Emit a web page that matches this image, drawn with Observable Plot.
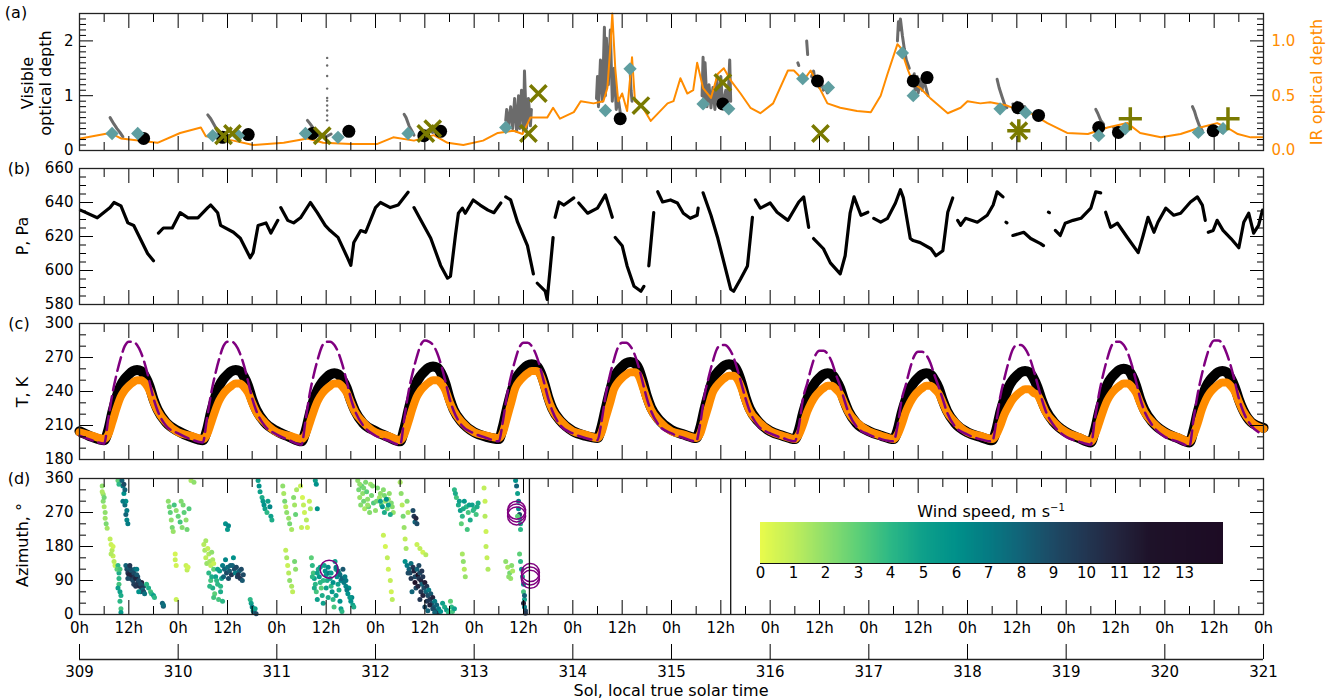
<!DOCTYPE html>
<html><head><meta charset="utf-8">
<script src="https://cdn.jsdelivr.net/npm/d3@7"></script>
<script src="https://cdn.jsdelivr.net/npm/@observablehq/plot@0.6"></script>
<style>
body{margin:0;background:#fff;font-family:"DejaVu Sans",sans-serif;}
#root{position:relative;width:1330px;height:700px;overflow:hidden;background:#fff;}
.t{position:absolute;white-space:nowrap;font-size:16px;color:#000;line-height:1;}
</style></head><body><div id="root"></div>
<script>
// ---------- DATA ----------
// Panel (a): IR optical depth (sol, tau_IR)
const irObs = [[309.01,.11],[309.31,.16],[309.42,.11],[309.62,.09],[309.79,.07],[310.02,.16],[310.23,.21],[310.28,.13],[310.56,.09],[310.76,.05],[311.07,.07],[311.31,.11],[311.47,.07],[311.75,.06],[312.02,.06],[312.18,.12],[312.39,.09],[312.59,.14],[312.73,.07],[312.89,.05],[313.09,.09],[313.24,.16],[313.40,.18],[313.49,.15],[313.57,.30],[313.74,.30],[313.80,.39],[313.87,.29],[314.01,.35],[314.08,.45],[314.21,.43],[314.31,.45],[314.35,.57],[314.38,.94],[314.40,1.25],[314.43,.75],[314.46,.45],[314.50,.52],[314.55,.36],[314.60,.85],[314.63,.45],[314.71,.39],[314.79,.27],[314.96,.43],[315.02,.45],[315.09,.66],[315.16,.52],[315.22,.55],[315.26,.80],[315.32,.57],[315.40,.48],[315.47,.70],[315.53,.75],[315.60,.64],[315.70,.52],[315.80,.39],[315.90,.34],[316.03,.43],[316.18,.73],[316.24,.73],[316.34,.64],[316.41,.73],[316.58,.43],[316.71,.39],[316.88,.36],[317.02,.35],[317.12,.50],[317.19,.70],[317.29,.97],[317.32,.94],[317.39,.75],[317.45,.61],[317.52,.57],[317.62,.48],[317.80,.34],[317.93,.39],[318.00,.45],[318.13,.43],[318.23,.44],[318.40,.41],[318.54,.36],[318.64,.34],[318.81,.25],[319.01,.16],[319.22,.15],[319.42,.21],[319.62,.25],[319.75,.16],[319.96,.12],[320.16,.15],[320.36,.21],[320.53,.25],[320.63,.21],[320.74,.15],[320.87,.12],[320.99,.12]];
// Visible optical depth streaks (segment, sol, tau)
const visObs = [
[1,309.31,.60],[1,309.35,.48],[1,309.38,.40],[1,309.41,.33],[1,309.44,.25],
[2,310.30,.65],[2,310.33,.58],[2,310.37,.45],[2,310.40,.35],[2,310.43,.30],
[3,310.46,.30],[3,310.50,.26],[3,310.55,.30],[3,310.58,.25],
[4,311.31,.55],[4,311.34,.48],[4,311.38,.38],[4,311.41,.30],[4,311.44,.25],
[5,311.47,.30],[5,311.50,.25],[5,311.55,.30],
[6,312.29,.66],[6,312.31,.60],[6,312.34,.45],[6,312.37,.35],[6,312.39,.28],
[7,312.50,.32],[7,312.54,.38],[7,312.58,.33],
[8,313.32,.55],[8,313.33,.75],[8,313.35,.45],[8,313.37,.80],[8,313.39,.40],[8,313.41,.95],[8,313.43,.35],[8,313.45,1.0],[8,313.46,.40],[8,313.48,1.1],[8,313.50,.35],[8,313.51,1.45],[8,313.53,.40],[8,313.55,.95],[8,313.57,.45],[8,313.58,.75],
[9,314.24,.95],[9,314.25,1.35],[9,314.26,.80],[9,314.28,1.65],[9,314.30,.90],[9,314.32,2.25],[9,314.33,1.0],[9,314.34,2.05],[9,314.36,1.2],[9,314.38,2.2],[9,314.40,.9],[9,314.42,1.5],[9,314.44,.75],[9,314.46,.95],[9,314.48,.7],
[10,314.58,1.5],[10,314.59,1.1],[10,314.60,.9],
[11,315.31,1.0],[11,315.32,1.7],[11,315.33,.85],[11,315.34,1.6],[11,315.36,.8],[11,315.38,1.2],[11,315.40,.78],[11,315.42,1.15],[11,315.44,.75],[11,315.46,1.3],[11,315.48,.80],[11,315.50,1.35],[11,315.52,.78],[11,315.55,1.1],[11,315.57,.8],[11,315.59,1.65],[11,315.60,.9],
[12,316.28,1.6],[12,316.29,1.55],
[13,316.37,2.0],[13,316.38,1.75],
[14,316.42,1.35],[14,316.44,1.45],[14,316.46,1.2],[14,316.48,1.35],[14,316.50,1.15],[14,316.52,1.25],[14,316.54,1.1],[14,316.56,1.15],[14,316.58,1.05],
[15,317.29,2.0],[15,317.30,2.35],[15,317.31,2.2],[15,317.32,2.4],[15,317.34,2.1],[15,317.36,1.85],[15,317.38,1.65],[15,317.41,1.5],
[16,317.46,1.4],[16,317.47,1.1],[16,317.49,1.35],[16,317.50,1.05],[16,317.52,1.3],[16,317.54,1.1],[16,317.56,1.4],[16,317.57,1.2],[16,317.60,1.0],
[17,318.30,1.3],[17,318.32,1.15],[17,318.35,.98],[17,318.38,.82],[17,318.40,.78],
[18,318.46,.85],[18,318.48,.72],[18,318.50,.88],[18,318.52,.72],[18,318.54,.84],[18,318.56,.70],[18,318.58,.80],[18,318.60,.68],
[19,319.30,.75],[19,319.32,.68],[19,319.35,.55],[19,319.38,.48],
[20,319.48,.42],[20,319.50,.36],[20,319.52,.42],[20,319.55,.34],[20,319.58,.38],
[21,320.28,.80],[21,320.30,.72],[21,320.32,.60],[21,320.35,.45],[21,320.38,.36],
[22,320.50,.42],[22,320.52,.36],[22,320.55,.40],[22,320.58,.33]];
const visSparse = [[311.51,1.69],[311.51,1.55],[311.51,1.36],[311.51,1.13],[311.51,.96],[311.51,.91],[311.51,.82],[311.51,.73],[311.51,.64],[311.51,.55]];
const tauCircle = [[309.65,.22],[310.45,.24],[310.71,.29],[311.36,.31],[311.73,.35],[312.49,.27],[312.66,.35],[314.48,.58],[315.52,.85],[316.48,1.27],[317.45,1.27],[317.59,1.33],[318.51,.78],[318.72,.64],[319.33,.42],[319.53,.33],[320.49,.36]];
const tauDiamond = [[309.33,.31],[309.59,.31],[310.35,.27],[310.61,.27],[311.29,.31],[311.62,.24],[312.33,.31],[313.32,.42],[314.33,.73],[314.58,1.49],[315.32,.85],[315.58,.76],[316.33,1.31],[316.59,1.15],[317.34,1.78],[317.45,1.00],[318.33,.76],[318.59,.69],[319.33,.27],[319.60,.40],[320.34,.33],[320.59,.40]];
const tauCross = [[310.46,.27],[310.55,.31],[311.46,.27],[312.51,.31],[312.58,.40],[313.55,.31],[313.65,1.04],[314.69,.82],[315.52,1.24],[316.51,.31],[318.52,.36]];
const tauPlus = [[318.52,.36],[319.65,.58],[320.64,.58]];

// Panel (b): pressure (segment, sol, Pa)
const pressObs = [
[1,309.01,635.5],[1,309.18,631],[1,309.31,637],[1,309.35,640],[1,309.42,638],[1,309.49,628],[1,309.55,626.5],[1,309.60,620.6],[1,309.69,610],[1,309.75,605.7],
[2,309.80,622],[2,309.85,625],[2,309.94,625],[2,310.02,634],[2,310.10,631],[2,310.20,631],[2,310.30,637],[2,310.33,638.5],[2,310.40,634],[2,310.43,626.5],[2,310.56,622.5],[2,310.63,619],[2,310.73,607.5],[2,310.76,610.5],[2,310.81,626.5],[2,310.89,628],[2,310.94,622],[2,311.01,629.5],
[3,311.04,637],[3,311.11,629.5],[3,311.17,628],[3,311.24,631],[3,311.34,640],[3,311.41,634],[3,311.49,626.5],[3,311.54,623.5],[3,311.62,619.5],[3,311.72,607],[3,311.75,603],[3,311.78,616.5],[3,311.85,623.5],[3,311.90,622.5],[3,312.00,637],[3,312.05,640],[3,312.15,637],[3,312.23,638.5],[3,312.33,646],
[4,312.39,637],[4,312.46,629.5],[4,312.56,619],[4,312.66,603],[4,312.73,595.5],[4,312.76,596.7],[4,312.81,620.6],[4,312.84,633.7],[4,312.88,636.7],[4,312.91,633.7],[4,312.99,641.5],[4,313.06,638.5],[4,313.14,635.5],[4,313.20,634],[4,313.27,639.7],
[5,313.32,643.3],[5,313.37,641.5],[5,313.44,628.4],[5,313.54,614.6],[5,313.60,598],
[6,313.64,592.5],[6,313.72,587.8],[6,313.74,583],[6,313.77,601],[6,313.80,619.4],
[7,313.82,631.3],[7,313.86,640.3],[7,313.91,638.5],[7,314.01,642.7],
[8,314.06,639.7],[8,314.15,633.7],[8,314.25,636.7],[8,314.33,644.5],[8,314.40,631.3],
[9,314.43,619.4],[9,314.50,614.6],[9,314.55,602.7],[9,314.62,590.7],[9,314.69,587.8],[9,314.72,590.7],
[10,314.77,602.7],[10,314.82,634],
[11,314.86,646.3],[11,314.91,640.3],[11,314.99,641.5],[11,315.06,639.7],[11,315.12,633.7],[11,315.19,630.7],[11,315.26,632.5],[11,315.27,636.7],
[12,315.32,645.7],[12,315.40,632.5],[12,315.47,618.8],[12,315.60,589],[12,315.63,587.8],[12,315.70,595],[12,315.77,602.7],[12,315.82,631.3],
[13,315.85,641.5],[13,315.90,636.7],[13,316.00,639.7],[13,316.07,634.3],[13,316.18,629.5],[13,316.29,640.3],[13,316.34,643.3],[13,316.39,625.4],
[14,316.44,618.8],[14,316.54,612.8],[14,316.61,604.5],[14,316.71,598],[14,316.76,608.7],[14,316.81,633.7],[14,316.85,643.3],[14,316.92,632.5],[14,316.99,634.3],
[15,317.05,630.7],[15,317.12,628.4],[15,317.19,630.7],[15,317.27,639.7],[15,317.32,647.5],[15,317.35,642.7],[15,317.42,618.8],[15,317.45,617.6],[15,317.52,616.4],[15,317.63,612.8],[15,317.68,608.7],[15,317.75,611.6],[15,317.80,634.3],[15,317.85,642.7],
[16,317.90,629.5],[16,317.93,626.6],[16,317.98,630.7],[16,318.10,628.4],[16,318.20,632.5],[16,318.26,638.5],[16,318.30,646.3],[16,318.36,643.3],
[17,318.39,628.4],[17,318.40,628.0],
[18,318.46,620.6],[18,318.57,622.5],[18,318.64,618.8],[18,318.74,615.8],[18,318.77,614.6],
[19,318.82,634.3],[19,318.83,634.0],
[20,318.89,623.6],[20,318.94,620.6],[20,318.99,627.8],[20,319.07,629.5],[20,319.15,630.7],[20,319.25,636.7],[20,319.30,646.3],[20,319.35,645.7],
[21,319.40,634.3],[21,319.45,625.4],[21,319.52,627.8],[21,319.62,619.4],[21,319.73,610.5],[21,319.78,620.6],[21,319.83,631.3],[21,319.89,622.5],[21,319.93,628.4],[21,320.01,636.7],[21,320.09,632.5],[21,320.16,633.7],[21,320.26,640.3],[21,320.33,643.3],[21,320.38,638.5],[21,320.41,629.5],
[22,320.44,622.5],[22,320.49,623.6],[22,320.53,629.5],[22,320.59,623.6],[22,320.67,618.8],[22,320.75,613.4],[22,320.80,628.4],[22,320.85,633.7],[22,320.90,622],[22,320.95,626.6],[22,320.99,635.5]];

// Panel (c): temperatures, one row per sol at local hours tHours
const tSols = [309,310,311,312,313,314,315,316,317,318,319,320];
const tHours = [0,3,6,7,8,9,10,11,12,13,14,15,16,17,18,19,21];
const surfT = [
[201,197,194,216,238,255,269,280,284,284,281,274,263,249,234,223,210],
[203,198,195,216,238,255,269,280,284,284,281,274,263,249,234,223,210],
[202,197,193,215,238,255,269,280,284,284,281,274,263,249,234,223,210],
[201,197,193,216,239,256,270,281,285,284,281,274,263,249,234,223,210],
[203,199,196,214,237,254,268,279,283,283,280,273,262,248,234,223,210],
[203,199,197,214,237,254,268,279,283,283,280,273,262,248,234,223,210],
[203,199,196,212,236,252,266,277,281,281,278,271,260,247,234,223,210],
[203,199,196,210,234,247,261,272,276,276,273,266,255,245,233,222,209],
[202,198,196,210,233,246,260,271,275,275,272,265,254,244,233,222,209],
[202,198,196,213,236,252,266,277,281,281,278,271,260,247,234,223,210],
[200,196,193,216,238,255,269,280,284,284,281,274,263,249,234,223,210],
[200,196,192,216,238,255,269,280,285,285,282,274,263,249,234,223,210]];
const airT = [
[205,200,197,206,222,235,245,251,255,258,259,258,253,245,233,224,213],
[205,200,197,206,222,235,245,251,255,258,259,258,253,245,233,224,213],
[205,200,196,205,220,233,242,248,252,255,256,255,250,243,232,223,212],
[205,200,196,207,223,237,248,254,258,261,262,261,256,247,234,224,213],
[204,200,198,209,225,239,250,256,260,263,264,263,258,248,235,225,214],
[205,201,199,209,225,240,252,258,262,265,266,265,260,249,236,226,215],
[206,202,199,208,224,238,250,256,260,263,264,263,258,248,235,225,214],
[205,201,198,206,221,233,242,248,252,255,256,255,250,243,232,223,212],
[205,201,198,206,221,233,242,248,252,255,256,255,250,243,232,223,212],
[204,200,197,206,222,234,244,250,254,257,258,257,252,244,233,224,213],
[204,199,195,206,222,235,246,252,256,259,260,259,254,245,233,224,213],
[204,199,195,206,222,234,244,250,254,257,258,257,252,244,233,224,213]];
const gndT = [
[204,201,198,202,213,225,235,241,245,248,250,250,247,241,231,223,213],
[204,201,198,202,212,223,232,238,242,245,247,247,244,239,230,222,213],
[204,201,198,202,212,223,232,238,242,245,247,247,244,239,230,222,213],
[204,201,197,202,213,225,235,241,245,248,250,250,247,241,231,223,213],
[204,201,199,204,217,230,243,249,253,256,258,258,255,245,233,224,214],
[205,202,199,204,217,229,242,248,252,255,257,257,254,244,233,224,214],
[205,202,199,203,215,227,239,245,249,252,254,254,251,243,232,223,214],
[205,201,198,202,211,222,230,236,240,243,245,245,242,238,230,222,213],
[205,201,198,202,211,222,230,236,240,243,245,245,242,238,230,222,213],
[204,201,198,202,210,220,227,233,237,240,242,242,239,237,230,222,213],
[204,200,196,202,212,223,232,238,242,245,247,247,244,239,230,222,213],
[204,200,196,202,212,224,233,239,243,246,248,248,245,240,231,223,213]];
const endT = {surf: 202, air: 208, gnd: 207};

// Panel (d): wind (sol, azimuth deg, speed m/s)
const windObs = [
[309.23,340,2],[309.24,318,1.8],[309.24,300,2.2],[309.25,285,1.5],[309.26,270,2],[309.26,255,1.7],[309.27,240,2.4],[309.28,228,1.6],[309.23,325,1.4],[309.25,310,2.6],
[309.31,200,1],[309.32,185,0.8],[309.33,170,1.2],[309.34,155,0.9],[309.35,140,1.1],[309.36,130,0.7],[309.32,160,1.3],[309.34,180,0.6],
[309.39,130,4],[309.40,110,4.5],[309.40,80,3.5],[309.41,60,5],[309.41,35,4],[309.42,15,3.5],[309.42,5,5.5],[309.39,355,3],[309.40,345,4],[309.38,120,3],
[309.40,95,4],[309.41,120,3.5],[309.42,50,4.5],[309.39,70,5],
[309.43,355,8],[309.44,340,7],[309.45,320,6],[309.46,290,7.5],[309.47,265,8],[309.48,250,6.5],[309.49,240,7],[309.45,345,9],[309.47,300,6],
[309.44,300,7],[309.46,330,8],[309.48,275,7],
[309.47,130,8],[309.48,120,9],[309.49,110,10],[309.50,125,8.5],[309.51,100,9.5],[309.52,95,10],[309.53,115,8],[309.54,90,9],[309.50,105,11],[309.52,120,9],
[309.49,95,9],[309.51,130,10],[309.53,105,11],[309.55,80,9.5],[309.56,120,8],[309.57,75,10],[309.59,100,9],[309.62,60,8.5],[309.63,85,11],[309.65,75,9],
[309.55,110,9],[309.56,100,10],[309.57,95,11],[309.58,105,8.5],[309.59,85,10],[309.60,90,9],[309.61,75,10.5],[309.62,80,9],[309.63,70,10],[309.64,65,8],[309.65,60,9],[309.66,55,7.5],[309.60,60,6],[309.58,120,7],
[309.68,80,4],[309.70,70,4.5],[309.72,60,3.5],[309.73,55,4],[309.75,50,5],[309.76,45,4],
[309.84,30,8],[309.85,22,8.5],[309.85,25,7.5],
[309.97,160,0.5],[309.97,145,0.8],[309.98,130,0.6],[309.98,40,0.8],
[309.90,300,2],[309.91,285,2.5],[309.92,270,3],[309.93,250,2],[309.94,230,2.5],[309.96,290,3.5],[309.98,275,2],[310.00,260,2.8],[310.02,245,3.5],[310.04,230,2.2],[310.05,290,2.5],[310.06,270,3],[310.08,250,2],[310.09,225,2.6],[310.11,280,3.2],[309.95,220,1.8],[310.03,300,2.3],
[310.08,130,0.8],[310.09,118,1],[310.10,125,0.6],
[310.13,355,1.5],[310.16,350,2],
[310.26,185,1.2],[310.27,170,1.5],[310.28,150,1],[310.29,135,1.8],[310.30,175,0.9],[310.31,160,1.3],[310.32,140,1.6],[310.33,130,1.1],[310.34,165,2],[310.35,145,1.4],[310.36,135,0.8],[310.28,195,1.5],
[310.31,110,4],[310.33,90,3.5],[310.35,70,4.5],[310.37,55,3],[310.38,100,5],[310.40,80,4],[310.41,40,3.5],[310.43,60,4.5],[310.44,95,5],[310.45,35,4],[310.36,120,3],[310.42,115,5.5],
[310.32,75,4],[310.34,100,4.5],[310.36,45,3.5],[310.39,90,4],[310.40,120,5],[310.43,75,4],
[310.45,130,7],[310.47,120,8],[310.49,110,9],[310.50,125,7.5],[310.52,115,8.5],[310.54,105,10],[310.55,130,8],[310.57,120,9],[310.58,110,7],[310.60,100,9.5],[310.62,115,8],[310.63,95,10],[310.65,90,8.5],[310.66,105,9],[310.48,145,6.5],[310.56,150,6],
[310.46,100,8],[310.51,95,9],[310.53,130,8],[310.59,125,9],[310.61,105,10],[310.64,120,9],
[310.48,240,6],[310.50,225,5.5],[310.51,235,6.5],
[310.73,40,4],[310.74,30,5],[310.75,20,7],[310.76,10,6],[310.77,5,8],[310.78,15,5],[310.79,2,9],
[310.81,355,5],[310.82,340,6],[310.83,325,5],[310.85,310,4.5],[310.86,300,5.5],[310.87,290,6],[310.88,280,5],[310.90,270,4],[310.91,300,5],[310.93,285,6.5],[310.94,260,5],[310.95,250,4.5],
[311.06,340,2],[311.07,320,1.5],[311.08,300,2.5],[311.09,285,1.2],[311.10,270,2],[311.12,255,1.8],[311.13,240,2.5],[311.15,225,1.5],[311.17,310,2.2],[311.18,290,1.6],[311.19,265,2.8],[311.20,330,1.4],
[311.09,170,1],[311.10,150,1.5],[311.11,130,0.8],[311.12,110,1.2],[311.13,90,2],[311.15,75,1.4],[311.16,60,1],[311.18,140,2.5],[311.19,120,2],
[311.24,340,0.8],[311.26,310,0.5],[311.27,290,1],[311.28,270,0.7],[311.30,250,1.2],[311.31,230,0.6],[311.33,300,0.9],[311.34,280,1.4],[311.25,230,0.9],
[311.35,150,3],[311.36,130,4],[311.37,110,3.5],[311.38,95,5],[311.39,80,4],[311.40,60,3.5],[311.41,40,5],[311.42,120,4.5],[311.43,100,5.5],[311.44,85,4],[311.45,70,3],[311.46,50,4.5],[311.47,30,5],[311.48,130,5],[311.49,115,6],[311.50,105,5.5],[311.51,90,4.5],[311.52,125,6.5],[311.53,110,7],[311.54,95,5],[311.55,75,4],[311.56,60,5.5],[311.57,40,4],[311.58,20,3.5],[311.59,140,5],[311.60,120,4.5],[311.61,100,6],[311.62,80,5],[311.63,65,4.5],[311.64,35,6],[311.65,15,5],[311.66,8,4],
[311.36,100,4],[311.38,70,4.5],[311.41,110,5],[311.44,125,5],[311.47,90,4],[311.50,70,5],[311.52,45,4.5],[311.55,110,5.5],[311.57,85,6],[311.60,50,5],[311.63,110,5],[311.65,90,6.5],[311.70,90,7],[311.73,70,6],[311.76,45,6.5],
[311.60,125,7],[311.62,115,8],[311.64,105,7.5],[311.66,95,8],[311.68,85,7],[311.70,75,6.5],[311.71,65,7],[311.72,55,6],[311.74,45,5.5],[311.75,35,6],[311.77,25,5],[311.78,20,4.5],[311.67,120,8.5],[311.69,100,7],
[311.39,355,5],[311.40,345,6],[311.41,280,6],
[311.82,355,2],[311.83,330,2.5],[311.84,310,1.8],[311.85,290,2.2],[311.86,340,3],[311.87,320,2],[311.88,300,2.6],[311.89,280,1.5],[311.90,350,2.4],[311.91,325,3],[311.92,305,2],[311.93,285,2.8],[311.94,270,2.2],[311.95,345,1.8],[311.96,315,2.5],[311.98,295,3.2],[312.00,275,2],[312.02,335,2.4],[312.04,310,1.6],[312.06,290,2.8],[312.08,330,2.2],[312.10,300,1.8],[312.12,280,2.6],[312.14,320,2],[312.16,295,2.4],[312.18,270,1.9],
[311.84,345,2],[311.88,335,2.5],[311.92,290,1.8],[311.97,340,2.2],[312.01,300,2.6],[312.05,320,2],[312.09,315,2.4],[312.13,305,1.8],[312.17,285,2.2],
[312.05,300,5],[312.07,285,5.5],[312.09,270,4.5],[312.11,305,6],[312.13,290,5],[312.15,265,4.5],
[312.08,210,0.8],[312.10,180,0.5],[312.12,150,1],[312.13,120,0.7],[312.15,90,0.9],[312.16,60,0.6],[312.17,40,1.1],
[312.25,350,1.5],[312.26,320,2],[312.27,290,1.2],[312.28,260,2.5],[312.29,230,1.8],[312.30,200,1],[312.31,175,1.5],[312.32,300,2.2],[312.33,270,1.4],
[312.38,275,9],[312.39,260,10],[312.40,245,8],[312.41,255,11],[312.42,240,9],
[312.30,140,6],[312.32,130,7],[312.34,120,8],[312.35,110,9],[312.36,135,7.5],[312.38,125,10],[312.39,115,11],[312.40,100,9],[312.42,120,8],[312.43,105,12],[312.44,95,10],[312.45,110,9],[312.46,90,11],[312.47,80,8],[312.48,100,10],[312.49,70,9],[312.50,85,11.5],[312.51,60,8],[312.52,75,10],[312.53,50,9],[312.54,65,7],[312.55,40,10],[312.56,55,8.5],[312.57,30,9],[312.58,45,11],[312.59,20,8],[312.60,35,7],[312.61,10,9],[312.62,25,8],[312.63,5,10],[312.64,15,7],[312.66,8,6],[312.68,30,5],[312.70,20,4.5],[312.72,12,5],[312.74,5,4],[312.37,60,8],[312.41,70,9],[312.45,40,10],[312.50,20,9],[312.53,10,8],
[312.33,110,9],[312.36,95,10],[312.40,85,12],[312.43,75,11],[312.46,60,10],[312.48,50,11],[312.52,35,10],[312.55,25,11],[312.58,15,9],[312.60,5,8],[312.44,130,9],[312.47,115,10],
[312.42,185,0.8],[312.45,175,1],[312.48,165,0.6],[312.51,158,1.2],
[312.76,35,3],[312.77,20,4],[312.78,8,3.5],[312.80,15,5],
[312.80,330,4],[312.82,310,3.5],[312.84,290,4.5],[312.86,275,5],[312.88,260,4],[312.90,300,5.5],[312.92,285,4],[312.94,270,3.5],[312.96,250,4.5],[312.98,290,5],[313.00,280,4],[313.02,265,3.5],[313.04,295,4.5],[312.87,240,3],[312.93,225,3.5],
[312.81,320,4.5],[312.85,300,5],[312.89,280,4.5],[312.95,290,5],[312.99,275,4],[313.03,285,4.5],
[312.88,160,1.5],[312.89,140,2],[312.90,120,1.2],[312.91,100,1.8],
[313.10,335,1],[313.11,300,0.8],[313.11,260,1.2],[313.12,220,0.7],[313.12,180,1],[313.13,150,0.9],[313.14,120,1.3],
[313.32,140,2],[313.34,125,1.5],[313.36,110,2.5],[313.37,95,1.8],[313.38,130,2.2],[313.39,115,1.4],[313.35,100,2],
[313.42,355,6],[313.43,340,8],[313.44,320,5],[313.45,300,7],[313.45,280,6],[313.46,265,9],[313.46,255,5],[313.47,240,4.5],[313.47,225,4],[313.44,260,3],
[313.46,160,3],[313.47,140,4],[313.48,120,5],[313.49,100,4.5],[313.50,80,6],[313.50,60,3.5],[313.51,40,5],[313.51,20,7],[313.52,10,9],[313.52,3,10],[313.50,30,11],[313.51,50,8]];
const windRings = [[311.53,120],[313.43,276],[313.43,269],[313.43,261],[313.57,111],[313.57,102],[313.57,93]];
const dataEnds = [313.56, 315.6];
const cbDomain = [0, 1, 2, 3, 4, 5, 6, 7, 8, 9, 10, 11, 12, 14.2];
const cbColors = ["#e8fb4c","#c0ee5b","#8fdf6c","#5ccf78","#2cb886","#0ea08a","#00918a","#057b83","#126378","#1d4a65","#223652","#23243e","#1e1229","#1d0b24"];
const cbTicks = [0,1,2,3,4,5,6,7,8,9,10,11,12,13];
const solTicks = [309,310,311,312,313,314,315,316,317,318,319,320,321];

// ---------- DRAWING ----------
const W = 1330, ML = 79, MR = 67;
const FONT = "DejaVu Sans";
const ORANGE = "#ff8c00", GRAY = "#6b6b6b", TEAL = "#5f9ea0", OLIVE = "#7a7a00", PURPLE = "#800080";
const root = document.getElementById("root");
const xMajor = d3.range(0, 25).map(i => 309 + i * 0.5);
const xMinor = d3.range(0, 24).map(i => 309.25 + i * 0.5);

function ticksFrame(yMajor, yMinor) {
  return [
    Plot.axisX(xMajor, {anchor: "bottom", tickSize: -14, fill: "none", tickFormat: () => "", label: null}),
    Plot.axisX(xMinor, {anchor: "bottom", tickSize: -8, fill: "none", tickFormat: () => "", label: null}),
    Plot.axisX(xMajor, {anchor: "top", tickSize: -14, fill: "none", tickFormat: () => "", label: null}),
    Plot.axisX(xMinor, {anchor: "top", tickSize: -8, fill: "none", tickFormat: () => "", label: null}),
    Plot.axisY(yMajor, {anchor: "left", tickSize: -14, fill: "none", tickFormat: () => "", label: null}),
    Plot.axisY(yMinor, {anchor: "left", tickSize: -7, fill: "none", tickFormat: () => "", label: null}),
    Plot.axisY(yMajor, {anchor: "right", tickSize: -14, fill: "none", tickFormat: () => "", label: null}),
    Plot.axisY(yMinor, {anchor: "right", tickSize: -7, fill: "none", tickFormat: () => "", label: null}),
    Plot.frame({stroke: "#222", strokeWidth: 1.3})
  ];
}
function yLabels(yMajor, fmt) {
  return Plot.axisY(yMajor, {anchor: "left", tickSize: 0, tickPadding: 6, label: null, fontSize: 15, tickFormat: fmt || (d => String(d))});
}
function mount(svg, top) {
  svg.style.position = "absolute"; svg.style.left = "0px"; svg.style.top = top + "px";
  root.appendChild(svg);
}
function baseStyle() {
  return {fontFamily: FONT, fontSize: "15px", color: "black", background: "transparent", overflow: "visible"};
}

// Panel (a)
{
  const yMaj = [0, 1, 2];
  const yMin = d3.range(1, 25).map(i => i / 10).filter(v => ![1, 2].includes(Math.round(v * 10) / 10));
  mount(Plot.plot({
    width: W, height: 154, marginLeft: ML, marginRight: MR, marginTop: 13, marginBottom: 4,
    x: {domain: [309, 321]}, y: {domain: [0, 2.5]}, style: baseStyle(),
    marks: [
      Plot.line(visObs, {x: d => d[1], y: d => d[2], z: d => d[0], stroke: GRAY, strokeWidth: 3}),
      Plot.dot(visSparse, {x: d => d[0], y: d => d[1], r: 1.2, fill: GRAY}),
      Plot.line(irObs, {x: d => d[0], y: d => d[1] * 2, stroke: ORANGE, strokeWidth: 2}),
      Plot.dot(tauCircle, {x: d => d[0], y: d => d[1], r: 6.5, fill: "black"}),
      Plot.dot(tauDiamond, {x: d => d[0], y: d => d[1], r: 6, symbol: "diamond2", fill: TEAL}),
      Plot.dot(tauCross, {x: d => d[0], y: d => d[1], r: 7.5, symbol: "times", stroke: OLIVE, strokeWidth: 3.5}),
      Plot.dot(tauPlus, {x: d => d[0], y: d => d[1], r: 7.5, symbol: "plus", stroke: OLIVE, strokeWidth: 3.5}),
      ...ticksFrame(yMaj, yMin),
      yLabels(yMaj),
      Plot.axisY(yMaj, {anchor: "right", tickSize: 0, tickPadding: 8, label: null, fontSize: 15, fill: ORANGE, tickFormat: d => (d / 2).toFixed(1)})
    ]
  }), 0);
}
// Panel (b)
{
  const yMaj = [580, 600, 620, 640, 660];
  const yMin = d3.range(585, 660, 5).filter(v => v % 20 !== 0);
  mount(Plot.plot({
    width: W, height: 153, marginLeft: ML, marginRight: MR, marginTop: 13, marginBottom: 4,
    x: {domain: [309, 321]}, y: {domain: [580, 660]}, style: baseStyle(),
    marks: [
      Plot.line(pressObs, {x: d => d[1], y: d => d[2], z: d => d[0], stroke: "black", strokeWidth: 3.2, strokeLinecap: "round"}),
      ...ticksFrame(yMaj, yMin),
      yLabels(yMaj)
    ]
  }), 155);
}
// Panel (c)
{
  const rows = key => {
    const src = key === "surf" ? surfT : key === "air" ? airT : gndT;
    const out = [];
    tSols.forEach((s, i) => tHours.forEach((h, j) => out.push({t: s + h / 24, v: src[i][j]})));
    out.push({t: 321, v: endT[key]});
    return out;
  };
  const yMaj = [180, 210, 240, 270, 300];
  const yMin = d3.range(190, 300, 10).filter(v => v % 30 !== 0);
  mount(Plot.plot({
    width: W, height: 153, marginLeft: ML, marginRight: MR, marginTop: 13, marginBottom: 4,
    x: {domain: [309, 321]}, y: {domain: [180, 300]}, style: baseStyle(),
    marks: [
      Plot.line(rows("air"), {x: "t", y: "v", stroke: "black", strokeWidth: 10, curve: "monotone-x"}),
      Plot.line(rows("gnd"), {x: "t", y: "v", stroke: ORANGE, strokeWidth: 8, curve: "monotone-x"}),
      Plot.line(rows("surf"), {x: "t", y: "v", stroke: PURPLE, strokeWidth: 2.5, strokeDasharray: "14,6", curve: "monotone-x"}),
      ...ticksFrame(yMaj, yMin),
      yLabels(yMaj)
    ]
  }), 310);
}
// Panel (d)
const colorScale = d3.scaleLinear().domain(cbDomain).range(cbColors).clamp(true);
const colorOpts = {type: "linear", domain: [0, 14.2], interpolate: t => colorScale(t * 14.2)};
{
  const yMaj = [0, 90, 180, 270, 360];
  const yMin = [30, 60, 120, 150, 210, 240, 300, 330];
  mount(Plot.plot({
    width: W, height: 175, marginLeft: ML, marginRight: MR, marginTop: 13, marginBottom: 26,
    x: {domain: [309, 321]}, y: {domain: [0, 360]}, color: colorOpts, style: baseStyle(),
    marks: [
      Plot.dot(windObs, {x: d => d[0], y: d => d[1], fill: d => d[2], r: 2.5}),
      Plot.dot(windRings, {x: d => d[0], y: d => d[1], r: 9, stroke: PURPLE, strokeWidth: 1.5, fill: "none"}),
      Plot.ruleX(dataEnds, {stroke: "#111", strokeWidth: 1.3}),
      ...ticksFrame(yMaj, yMin),
      yLabels(yMaj),
      Plot.axisX(xMajor, {anchor: "bottom", tickSize: 0, tickPadding: 8, label: null, fontSize: 15,
        tickFormat: d => Math.round((d - Math.floor(d)) * 24) + "h"})
    ]
  }), 465);
}
// Sol axis
mount(Plot.plot({
  width: W, height: 70, marginLeft: ML, marginRight: MR, marginTop: 0, marginBottom: 43,
  x: {domain: [309, 321]}, y: {domain: [0, 1], axis: null}, style: baseStyle(),
  marks: [
    Plot.ruleY([0], {strokeWidth: 1.3, stroke: "#222"}),
    Plot.axisX(solTicks, {anchor: "bottom", tickSize: -15, fill: "none", tickFormat: () => "", label: null}),
    Plot.axisX(solTicks, {anchor: "bottom", tickSize: 0, tickPadding: 7, label: null, fontSize: 15, tickFormat: d => String(d)})
  ]
}), 632);

// Colorbar legend
{
  const leg = Plot.legend({color: colorOpts, legend: "ramp", width: 483, height: 66, marginLeft: 10, marginRight: 10,
    marginTop: 0, marginBottom: 24, ticks: cbTicks, tickSize: 0, label: null, tickFormat: d => String(d),
    style: {fontFamily: FONT, fontSize: "15px", color: "black", background: "transparent", overflow: "visible"}});
  leg.querySelectorAll(".tick line").forEach(l => l.remove());
  leg.style.position = "absolute"; leg.style.left = "750px"; leg.style.top = "522px";
  root.appendChild(leg);
  const ln = document.createElement("div");
  ln.style.cssText = "position:absolute;left:760px;top:563px;width:463px;height:0;border-top:1.5px solid #111;";
  root.appendChild(ln);
}

// Text labels
function label(html, cx, cy, opts = {}) {
  const el = document.createElement("div");
  el.className = "t";
  el.innerHTML = html;
  if (opts.color) el.style.color = opts.color;
  if (opts.size) el.style.fontSize = opts.size + "px";
  el.style.left = cx + "px"; el.style.top = cy + "px";
  el.style.transform = "translate(-50%,-50%)" + (opts.rot ? " rotate(-90deg)" : "");
  root.appendChild(el);
}
label("(a)", 16, 13);
label("(b)", 19, 169);
label("(c)", 19, 324);
label("(d)", 19, 479);
label("Visible", 28, 83, {rot: true});
label("optical depth", 46, 83, {rot: true});
label("P, Pa", 23, 236, {rot: true});
label("T, K", 23, 392, {rot: true});
label("Azimuth, °", 23, 545, {rot: true});
label("IR optical depth", 1317, 82, {rot: true, color: ORANGE});
label("Wind speed, m s<sup style='font-size:10px;vertical-align:6px'>−1</sup>", 991, 511);
label("Sol, local true solar time", 671, 691);
</script></body></html>
